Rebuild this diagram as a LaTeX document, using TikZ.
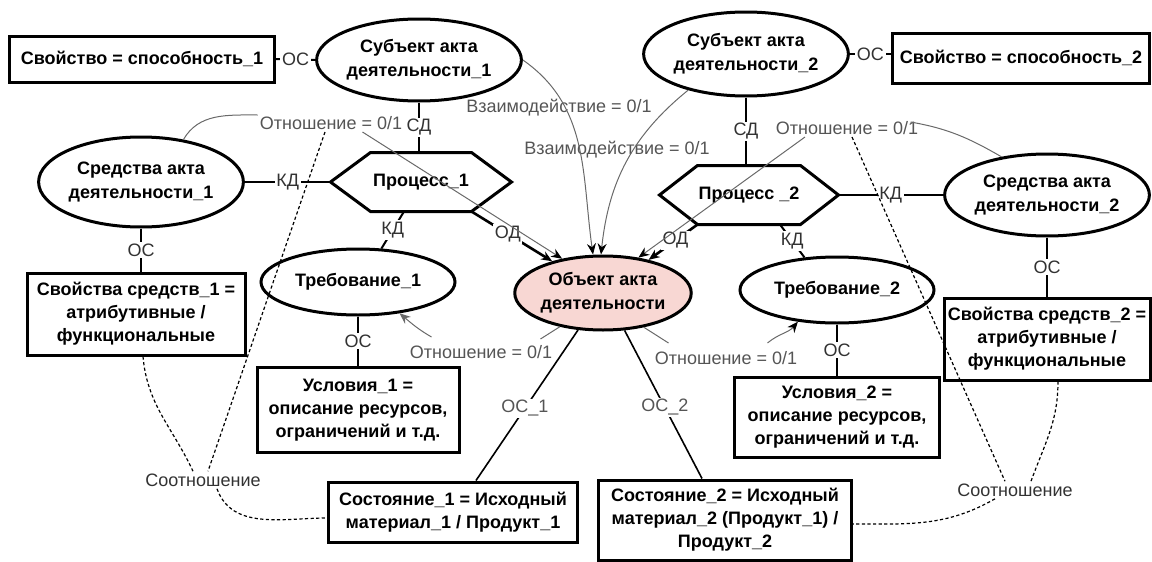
\documentclass[tikz,border=0pt]{standalone}
\usepackage{fontspec}
\setmainfont{Liberation Sans}
\usetikzlibrary{shapes.geometric,arrows.meta,calc}
\definecolor{objfill}{RGB}{248,215,211}
\definecolor{lblc}{RGB}{50,50,50}
\definecolor{relc}{RGB}{85,85,85}
\definecolor{rellinec}{RGB}{105,105,105}
\begin{document}
\begin{tikzpicture}[x=0.5pt,y=-0.5pt,
  nd/.style={font=\bfseries\fontsize{9}{12}\selectfont, align=center, line width=1.5pt, draw, inner sep=0pt},
  ell/.style={nd, ellipse},
  box/.style={nd, rectangle, font=\bfseries\fontsize{9}{11.5}\selectfont},
  hexn/.style={nd, draw=none, rectangle},
  hexline/.style={line width=1.5pt, line join=miter},
  lbl/.style={font=\fontsize{9}{11}\selectfont, text=lblc, fill=white, inner sep=0.8pt},
  rlbl/.style={font=\fontsize{9}{11}\selectfont, text=relc, inner sep=1pt},
  con/.style={line width=1pt},
  odarr/.style={line width=1.3pt, -{Stealth[length=5.5pt,width=4.5pt]}},
  rel/.style={draw=rellinec, line width=0.5pt},
  relar/.style={rel, -{Stealth[length=5.5pt,width=4.5pt,color=black]}},
  dsh/.style={line width=0.6pt, dash pattern=on 1.6pt off 1.2pt},
]
\useasboundingbox (0,0) rectangle (1152,562);

% nodes
\node[box, minimum width=132.5pt, minimum height=23pt] (sv1) at (142,59) {Свойство = способность\_1};
\node[ell, minimum width=97.5pt, minimum height=41pt] (sub1) at (419,60) {Субъект акта\\деятельности\_1};
\node[ell, minimum width=97pt, minimum height=42pt] (sub2) at (746,54) {Субъект акта\\деятельности\_2};
\node[box, minimum width=128.5pt, minimum height=25pt] (sv2) at (1021,58) {Свойство = способность\_2};
\node[ell, minimum width=100pt, minimum height=45pt] (sr1) at (141,182) {Средства акта\\деятельности\_1};
\node[hexn, minimum width=89pt, minimum height=28pt] (p1) at (421,182) {Процесс\_1};
\node[hexn, minimum width=88pt, minimum height=28pt] (p2) at (749,195) {Процесс \_2};
\node[ell, minimum width=100pt, minimum height=41pt] (sr2) at (1047,195) {Средства акта\\деятельности\_2};
\node[box, minimum width=109pt, minimum height=41pt] (ssr1) at (136,314) {Свойства средств\_1 =\\атрибутивные /\\функциональные};
\node[box, minimum width=103pt, minimum height=41pt] (ssr2) at (1047,339) {Свойства средств\_2 =\\атрибутивные /\\функциональные};
\node[ell, minimum width=97pt, minimum height=33pt] (tr1) at (358,282) {Требование\_1};
\node[ell, minimum width=97pt, minimum height=33pt] (tr2) at (837,290) {Требование\_2};
\node[ell, fill=objfill, minimum width=85pt, minimum height=37pt] (obj) at (603,293) {Объект акта\\деятельности};
\node[box, minimum width=101pt, minimum height=42.5pt] (us1) at (358,410) {Условия\_1 =\\описание ресурсов,\\ограничений и т.д.};
\node[box, minimum width=102.5pt, minimum height=40pt] (us2) at (837,417) {Условия\_2 =\\описание ресурсов,\\ограничений и т.д.};
\node[box, minimum width=124.5pt, minimum height=30pt] (st1) at (453,512) {Состояние\_1 = Исходный\\материал\_1 / Продукт\_1};
\node[box, minimum width=126.5pt, minimum height=40pt] (st2) at (725,520) {Состояние\_2 = Исходный\\материал\_2 (Продукт\_1) /\\Продукт\_2};

% hexagons
\draw[hexline] (p1.west) -- ([xshift=20pt]p1.north west) -- ([xshift=-20pt]p1.north east) -- (p1.east)
  -- ([xshift=-20pt]p1.south east) -- ([xshift=20pt]p1.south west) -- cycle;
\draw[hexline] (p2.west) -- ([xshift=19pt]p2.north west) -- ([xshift=-19pt]p2.north east) -- (p2.east)
  -- ([xshift=-19pt]p2.south east) -- ([xshift=19pt]p2.south west) -- cycle;

% relation labels
\node[rlbl] (otn1) at (331,123) {Отношение = 0/1};
\node[rlbl] (otn2) at (847,128) {Отношение = 0/1};
\node[rlbl] (vz1) at (559,108) {Взаимодействие = 0/1};
\node[rlbl] (vz2) at (617,150) {Взаимодействие = 0/1};
\node[rlbl] (otn3) at (481,352) {Отношение = 0/1};
\node[rlbl] (otn4) at (726,358) {Отношение = 0/1};
\node[rlbl, text=lblc] (sootn1) at (203,480) {Соотношение};
\node[rlbl, text=lblc] (sootn2) at (1015,490) {Соотношение};

% black connectors
\draw[con] (sv1.east) -- node[lbl] (c1) {ОС} (sub1.west);
\draw[con] (sub2.east) -- node[lbl] (c2) {ОС} (sub2.east -| sv2.west);
\draw[con] (sub1.south) -- node[lbl] (c3) {СД} (sub1.south |- p1.north);
\draw[con] (sub2.south) -- node[lbl] (c4) {СД} (sub2.south |- p2.north);
\draw[con] (sr1.east) -- node[lbl] (c5) {КД} (p1.west);
\draw[con] (p2.east) -- node[lbl] (c6) {КД} (sr2.west);
\draw[con] ([xshift=-8.5pt]p1.south) -- node[lbl] (c7) {КД} (tr1.55);
\draw[con] ([xshift=15.5pt]p2.south) -- node[lbl] (c8) {КД} (tr2.135);
\draw[con] (sr1.south) -- node[lbl] (c9) {ОС} (sr1.south |- ssr1.north);
\draw[con] (sr2.south) -- node[lbl] (c10) {ОС} (sr2.south |- ssr2.north);
\draw[con] (tr1.south) -- node[lbl] (c11) {ОС} (us1.north);
\draw[con] (tr2.south) -- node[lbl] (c12) {ОС} (us2.north);
\draw[odarr] ([xshift=-20pt]p1.south east) -- node[lbl, pos=0.45] (c13) {ОД} (obj.148);
\draw[odarr] ([xshift=19pt]p2.south west) -- node[lbl, pos=0.45] (c14) {ОД} (obj.36);
\draw[con, line width=0.8pt] (obj.236) -- node[lbl, text=relc, pos=0.52] (c15) {ОС\_1} ([xshift=11.5pt]st1.north);
\draw[con, line width=0.8pt] (obj.-60) -- node[lbl, text=relc, pos=0.52] (c16) {ОС\_2} ([xshift=-11.5pt]st2.north);

% relation curves
\draw[rel] (sr1.45) to[out=60,in=180] ([yshift=4pt]otn1.west);
\draw[relar] ([xshift=-21pt]otn1.south east) -- (obj.140);
\draw[relar] (sub1.east) to[out=-35,in=98] ([xshift=-5pt]obj.north);
\draw[relar] (sub2.212) to[out=219,in=84] ([xshift=-1pt]obj.north);
\draw[rel] (sr2.140) to[out=150,in=-10] ([xshift=-5pt,yshift=3pt]otn2.east);
\draw[relar] ([xshift=-21pt]otn2.south) -- (obj.45);
\draw[rel] (obj.218) -- ([xshift=-7pt,yshift=2pt]otn3.north east);
\draw[rel, -{Stealth[length=5.5pt,width=4.5pt]}] ([xshift=12pt,yshift=3pt]otn3.north west) to[out=150,in=-40] (tr1.-37);
\draw[rel] (obj.-40) -- ([xshift=8pt,yshift=3pt]otn4.north west);
\draw[relar] ([xshift=-16pt,yshift=3pt]otn4.north east) to[out=40,in=-130] (tr2.219);

% dashed
\draw[dsh] ([xshift=-3pt]otn1.south) -- ([xshift=2.5pt]sootn1.north);
\draw[dsh] ([xshift=3.5pt]ssr1.south) to[out=-85,in=115] ([xshift=-5pt]sootn1.north);
\draw[dsh] ([xshift=7pt]sootn1.south) to[out=-70,in=180] ([yshift=-3pt]st1.west);
\draw[dsh] ([xshift=2.5pt]otn2.south) -- ([xshift=-5pt]sootn2.north);
\draw[dsh] ([xshift=5.5pt]ssr2.south) to[out=-90,in=70] ([xshift=8pt]sootn2.north);
\draw[dsh] ([xshift=-10pt]sootn2.south) to[out=-150,in=0] ([yshift=-2pt]st2.east);
\end{tikzpicture}
\end{document}
